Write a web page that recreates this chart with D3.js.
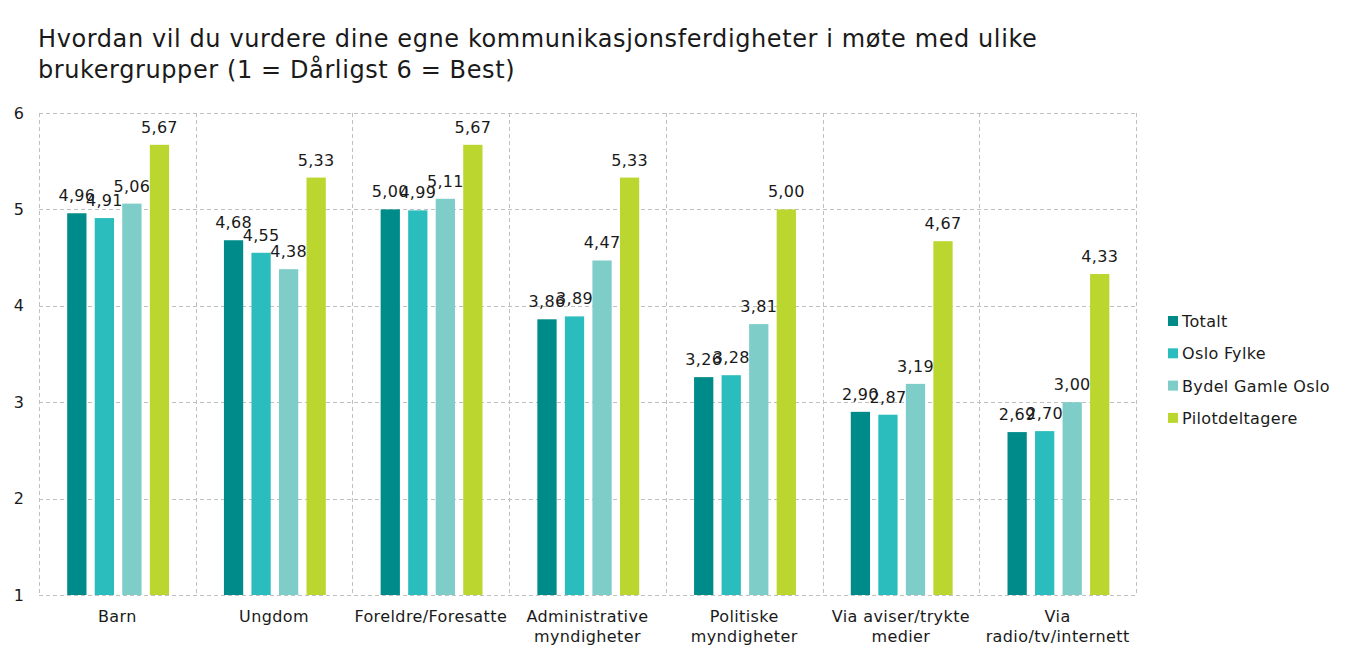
<!DOCTYPE html>
<html><head><meta charset="utf-8">
<script src="https://cdn.jsdelivr.net/npm/d3@7"></script>
<style>body{margin:0;background:#fff}svg{display:block}text{font-family:Verdana,"DejaVu Sans",sans-serif;fill:#1a1a1a}</style>
</head><body><svg id="c" width="1350" height="660"></svg>
<script>
const categories = [["Barn"],["Ungdom"],["Foreldre/Foresatte"],["Administrative","myndigheter"],["Politiske","myndigheter"],["Via aviser/trykte","medier"],["Via","radio/tv/internett"]];
const seriesNames = ["Totalt","Oslo Fylke","Bydel Gamle Oslo","Pilotdeltagere"];
const totalt = [4.96,4.68,5.00,3.86,3.26,2.90,2.69];
const osloFylke = [4.91,4.55,4.99,3.89,3.28,2.87,2.70];
const bydelGamleOslo = [5.06,4.38,5.11,4.47,3.81,3.19,3.00];
const pilotdeltagere = [5.67,5.33,5.67,5.33,5.00,4.67,4.33];
const yTicks = [1,2,3,4,5,6];
const colors = ["#008B8B","#2BBDBD","#7ECDC9","#BCD630"];
const values = [totalt, osloFylke, bydelGamleOslo, pilotdeltagere];

const svg = d3.select("#c");
const L = 39, R = 1136, T = 113, B = 595;
const catKeys = categories.map((c,i)=>i);
const x0 = d3.scaleBand().domain(catKeys).range([L,R]).padding(0);
const bw = x0.bandwidth();
const x1 = d3.scaleBand().domain(d3.range(4)).range([bw*0.18, bw*0.83]).paddingInner(0.3).paddingOuter(0);
const y = d3.scaleLinear().domain([1,6]).range([B,T]);

const grid = svg.append("g").attr("stroke","#C0C0C0").attr("stroke-dasharray","4,3").attr("stroke-width",1);
yTicks.forEach(t=>grid.append("line").attr("x1",L).attr("x2",R).attr("y1",Math.round(y(t))+0.5).attr("y2",Math.round(y(t))+0.5));
catKeys.concat([categories.length]).forEach(i=>{
  const xx = i<categories.length ? x0(i) : R;
  grid.append("line").attr("x1",Math.round(xx)+0.5).attr("x2",Math.round(xx)+0.5).attr("y1",T).attr("y2",B);
});

// y axis labels
const yAxis = d3.axisLeft(y).tickValues(yTicks).tickSize(0).tickPadding(15).tickFormat(d3.format("d"));
const ya = svg.append("g").attr("transform",`translate(${L},0)`).call(yAxis);
ya.select(".domain").remove();
ya.selectAll("text").style("font-size","16px").attr("fill","#1a1a1a").attr("font-family",null);

// bars
const fmt = v => v.toFixed(2).replace(".",",");
values.forEach((arr,s)=>{
  const g = svg.append("g");
  arr.forEach((v,i)=>{
    const xx = x0(i)+x1(s);
    g.append("rect").attr("x",xx).attr("y",y(v)).attr("width",x1.bandwidth()).attr("height",y(1)-y(v)).attr("fill",colors[s]);
    g.append("text").attr("x",xx+x1.bandwidth()/2).attr("y",y(v)-12).attr("text-anchor","middle").style("font-size","16px").style("letter-spacing","0.3px").text(fmt(v));
  });
});

// category labels
categories.forEach((lines,i)=>{
  const t = svg.append("text").attr("x",x0(i)+bw/2).attr("y",622).attr("text-anchor","middle").style("font-size","16px").style("letter-spacing","0.4px");
  lines.forEach((ln,k)=>t.append("tspan").attr("x",x0(i)+bw/2).attr("dy",k===0?0:20).text(ln));
});

// legend
seriesNames.forEach((n,s)=>{
  const yy = 321 + s*32.3;
  svg.append("rect").attr("x",1168).attr("y",yy-5).attr("width",10).attr("height",10).attr("fill",colors[s]);
  svg.append("text").attr("x",1182).attr("y",yy+6).style("font-size","16px").style("letter-spacing","0.35px").text(n);
});

// title
const title = svg.append("text").attr("x",38).attr("y",47).style("font-size","24px").style("letter-spacing","0.6px");
title.append("tspan").attr("x",38).text("Hvordan vil du vurdere dine egne kommunikasjonsferdigheter i møte med ulike");
title.append("tspan").attr("x",38).attr("dy",31).text("brukergrupper (1 = Dårligst 6 = Best)");
</script></body></html>
